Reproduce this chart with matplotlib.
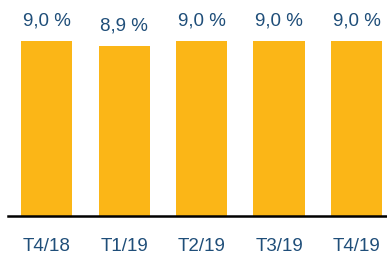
import matplotlib.pyplot as plt
import numpy as np

quarters = ['T4/18', 'T1/19', 'T2/19', 'T3/19', 'T4/19']
rates = [9.0, 8.9, 9.0, 9.0, 9.0]
labels = ['9,0 %', '8,9 %', '9,0 %', '9,0 %', '9,0 %']

plt.rcParams['font.family'] = ['Liberation Sans', 'DejaVu Sans']
blue = '#1F4E79'

fig = plt.figure(figsize=(3.87, 2.56), dpi=100)
ax = fig.add_axes([0, 40 / 256, 1, 216 / 256])

x = np.arange(len(quarters))
bars = ax.bar(x, rates, width=0.66, color='#FBB617', bottom=0)

for xi, v, lab in zip(x, rates, labels):
    ax.annotate(lab, (xi, v), xytext=(0, 8.5), textcoords='offset points',
                ha='center', va='bottom', fontsize=13.5, color=blue)

ax.set_ylim(5.5, 9.82)
ax.set_xlim(-0.603, 4.394)
ax.set_xticks(x, quarters)
ax.tick_params(axis='x', length=0, pad=15.5, labelsize=13.5, labelcolor=blue)
ax.set_yticks([])
for s in ['top', 'right', 'left']:
    ax.spines[s].set_visible(False)
ax.spines['bottom'].set_linewidth(1.8)
ax.spines['bottom'].set_bounds(-0.5, 4.394)
ax.patch.set_alpha(0)

fig.savefig('out.png', dpi=100)
